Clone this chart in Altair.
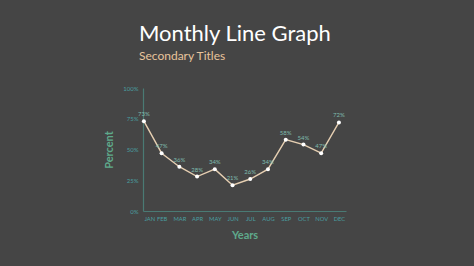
import altair as alt
import pandas as pd

months = ["JAN", "FEB", "MAR", "APR", "MAY", "JUN", "JUL", "AUG", "SEP", "OCT", "NOV", "DEC"]
values = [73, 47, 36, 28, 34, 21, 26, 34, 58, 54, 47, 72]
y_ticks = [0, 25, 50, 75, 100]

df = pd.DataFrame({"idx": list(range(len(months))), "month": months, "value": values})
df["label"] = [f"{v}%" for v in values]

month_js = "[" + ",".join(f"'{m}'" for m in months) + "]"

FONT = "Lato"
TEAL = "#4a9fa0"
GREEN = "#5faa8c"

x = alt.X("idx:Q",
          scale=alt.Scale(domain=[-0.05, 11.4], nice=False, zero=False),
          axis=alt.Axis(values=list(range(len(months))),
                        labelExpr=f"{month_js}[datum.value]",
                        labelOverlap=False,
                        title="Years", titleColor=GREEN, titleFont=FONT,
                        titleFontSize=11, titleFontWeight="bold", titlePadding=9,
                        labelColor=TEAL, labelFont=FONT, labelFontSize=5.8,
                        labelFontWeight="normal", labelPadding=4,
                        ticks=False, grid=False, domainColor="#4a7a74",
                        domainWidth=1.2))
y = alt.Y("value:Q",
          scale=alt.Scale(domain=[0, 100], nice=False),
          axis=alt.Axis(values=y_ticks, labelExpr="datum.value + '%'",
                        labelOverlap=False,
                        title="Percent", titleColor=GREEN, titleFont=FONT,
                        titleFontSize=11, titleFontWeight="bold", titlePadding=8,
                        labelColor=TEAL, labelFont=FONT, labelFontSize=6,
                        labelPadding=5, ticks=False, grid=False,
                        domainColor="#4a7a74", domainWidth=1.2))

base = alt.Chart(df).encode(x=x, y=y)

line = base.mark_line(color="#e6cfb2", strokeWidth=1.4)
pts = base.mark_point(shape="circle", filled=True, color="#ffffff", size=16, opacity=1)
labels = base.mark_text(dy=-7, font=FONT, fontSize=6, color="#7fbcae").encode(text="label:N")

chart = (line + pts + labels).properties(
    width=203, height=123,
    background="#454545",
    padding={"left": 143, "top": 88, "right": 128, "bottom": 55},
    autosize=alt.AutoSizeParams(type="none"),
    title=alt.TitleParams(
        "Monthly Line Graph",
        subtitle="Secondary Titles",
        anchor="start", frame="group", dx=-4, offset=22,
        font=FONT, fontSize=22, fontWeight="normal", color="#ffffff",
        subtitleFont=FONT, subtitleFontSize=12, subtitleColor="#e8c49c",
        subtitlePadding=5,
    ),
).configure_view(stroke=None)

chart.save("out.html", embed_options={"renderer": "svg", "actions": False})
